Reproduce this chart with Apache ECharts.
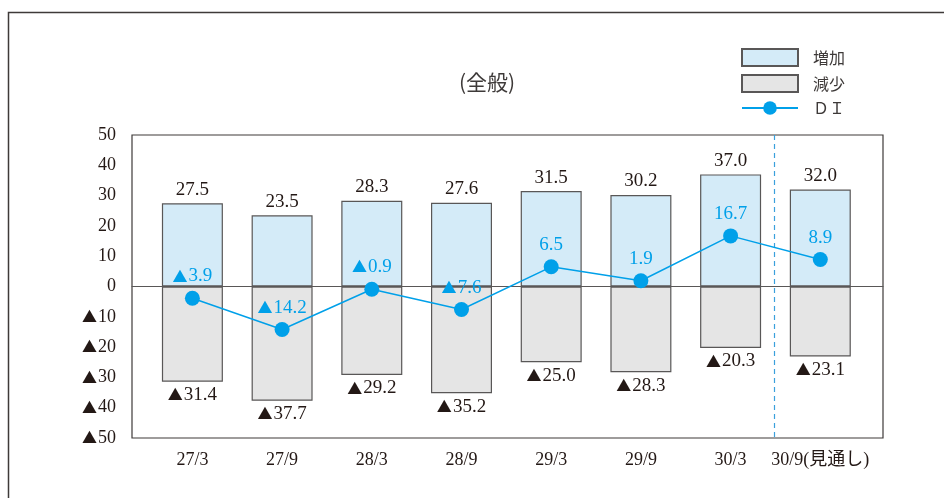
<!DOCTYPE html>
<html>
<head>
<meta charset="utf-8">
<script src="https://cdn.jsdelivr.net/npm/echarts@6/dist/echarts.min.js"></script>
<style>
  html, body { margin: 0; padding: 0; background: #fff; }
  #chart { width: 944px; height: 498px; }
</style>
</head>
<body>
<div id="chart"></div>
<script>
// Survey periods (year/month), last one is the outlook
const categories = ['27/3', '27/9', '28/3', '28/9', '29/3', '29/9', '30/3', '30/9(見通し)'];
// Share answering "increase" (%)
const increase = [27.5, 23.5, 28.3, 27.6, 31.5, 30.2, 37.0, 32.0];
// Share answering "decrease" (%), shown below zero
const decrease = [31.4, 37.7, 29.2, 35.2, 25.0, 28.3, 20.3, 23.1];
// Diffusion index = increase - decrease
const di = [-3.9, -14.2, -0.9, -7.6, 6.5, 1.9, 16.7, 8.9];
// Value-axis tick labels
const yTicks = [-50, -40, -30, -20, -10, 0, 10, 20, 30, 40, 50];

const numFont = '"Liberation Serif", "Noto Sans CJK JP", serif';
const jpFont = '"Noto Sans CJK JP", sans-serif';
const ink = '#231815';
const blue = '#00a0e9';
const edge = '#595757';
const NUM = 19;

// "▲" marks negative numbers; the triangle is set in a full-width glyph
function tri(v) {
  return v < 0 ? '{t|▲}' + Math.abs(v).toFixed(1) : v.toFixed(1);
}
function triInt(v) {
  return v < 0 ? '{t|▲}' + Math.abs(v) : String(v);
}
function richTri(color) {
  return { t: { fontFamily: jpFont, fontSize: 15, color: color, padding: [0, 1, 1, 0] } };
}

const frame = {
  type: 'rect',
  shape: { x: 8.5, y: 12.5, width: 960, height: 520 },
  style: { fill: 'none', stroke: '#3e3a39', lineWidth: 1.5 },
  silent: true
};

const chart = echarts.init(document.getElementById('chart'));
chart.setOption({
  animation: false,
  backgroundColor: '#fff',
  title: {
    text: '(全般)',
    left: 482,
    top: 67,
    textAlign: 'center',
    textStyle: { fontFamily: jpFont, fontSize: 21, fontWeight: 'normal', color: '#3e3a39' }
  },
  legend: {
    orient: 'vertical',
    left: 741,
    top: 48,
    padding: 0,
    itemWidth: 56,
    itemHeight: 17,
    itemGap: 7,
    data: [{ name: '増加', icon: 'rect' }, { name: '減少', icon: 'rect' }, { name: 'ＤＩ' }],
    textStyle: { fontFamily: jpFont, fontSize: 16, color: '#3e3a39', padding: [0, 0, 0, 10] }
  },
  grid: [
    // frame of the plotting area
    { left: 132, right: 61, top: 135, bottom: 60, show: true, borderColor: '#3e3a39', borderWidth: 1.2, backgroundColor: 'transparent' },
    // grid carrying the bars and the DI line
    { left: 147.55, right: 78.85, top: 135, bottom: 60 }
  ],
  xAxis: [
    {
      gridIndex: 0, type: 'category', data: [''], z: 3,
      axisLine: { show: true, onZero: true, lineStyle: { color: edge, width: 1.2 } },
      axisTick: { show: false }, axisLabel: { show: false }, splitLine: { show: false }
    },
    {
      gridIndex: 1, type: 'category', data: categories, boundaryGap: true,
      axisLine: { show: false, onZero: false }, axisTick: { show: false },
      splitLine: { show: false },
      axisLabel: { interval: 0, margin: 13, fontFamily: numFont, fontSize: 18, color: ink }
    }
  ],
  yAxis: [
    {
      gridIndex: 0, type: 'value', min: -50, max: 50,
      axisLine: { show: false }, axisTick: { show: false }, axisLabel: { show: false }, splitLine: { show: false }
    },
    {
      gridIndex: 1, type: 'value', min: yTicks[0], max: yTicks[yTicks.length - 1], interval: 10,
      axisLine: { show: false }, axisTick: { show: false }, splitLine: { show: false },
      axisLabel: { margin: 31.5, fontFamily: numFont, fontSize: 18, color: ink, formatter: triInt, rich: richTri(ink) }
    }
  ],
  series: [
    {
      name: '増加', type: 'bar', xAxisIndex: 1, yAxisIndex: 1,
      barWidth: 61, z: 2,
      data: increase,
      itemStyle: { color: '#d4ebf8', borderColor: edge, borderWidth: 1.2 },
      label: { show: true, position: 'top', distance: 4, fontFamily: numFont, fontSize: NUM, color: ink,
        formatter: p => tri(p.value), rich: richTri(ink) }
    },
    {
      name: '減少', type: 'bar', xAxisIndex: 1, yAxisIndex: 1,
      barWidth: 61, barGap: '-100%', z: 2,
      data: decrease.map(v => -v),
      itemStyle: { color: '#e5e5e5', borderColor: edge, borderWidth: 1.2 },
      label: { show: true, position: 'bottom', distance: 4, fontFamily: numFont, fontSize: NUM, color: ink,
        formatter: p => tri(p.value), rich: richTri(ink) }
    },
    {
      name: 'ＤＩ', type: 'line', xAxisIndex: 1, yAxisIndex: 1, z: 5,
      data: di,
      symbol: 'circle', symbolSize: 15,
      lineStyle: { color: blue, width: 1.5 },
      itemStyle: { color: blue },
      label: { show: true, position: 'top', distance: 5, fontFamily: numFont, fontSize: NUM, color: blue,
        formatter: p => tri(p.value), rich: richTri(blue) }
    }
  ]
});

// Dashed separator between the actual results and the outlook period,
// placed halfway between the last two categories on the axis scale
const xa = chart.convertToPixel({ xAxisIndex: 1 }, categories[6]);
const xb = chart.convertToPixel({ xAxisIndex: 1 }, categories[7]);
const yTop = chart.convertToPixel({ yAxisIndex: 1 }, yTicks[yTicks.length - 1]);
const yBot = chart.convertToPixel({ yAxisIndex: 1 }, yTicks[0]);
const xs = Math.round((xa + xb) / 2) - 0.5;
chart.setOption({
  graphic: [frame, {
    type: 'line',
    shape: { x1: xs, y1: yTop, x2: xs, y2: yBot },
    style: { stroke: '#3aa0dc', lineWidth: 1.2, lineDash: [5, 4] },
    silent: true, z: 1
  }]
});
</script>
</body>
</html>
